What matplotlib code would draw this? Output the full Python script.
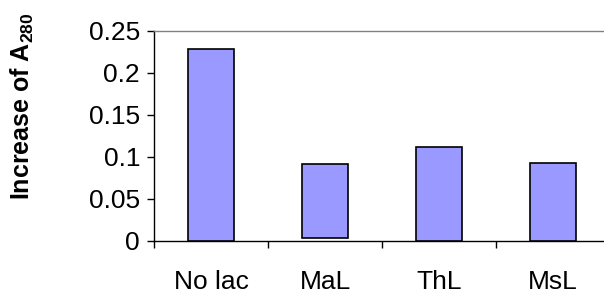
import matplotlib
matplotlib.use('Agg')
import matplotlib.pyplot as plt
import numpy as np

plt.rcParams['font.family'] = ['Liberation Sans', 'DejaVu Sans']
plt.rcParams['mathtext.fontset'] = 'custom'
plt.rcParams['mathtext.rm'] = 'Liberation Sans'
plt.rcParams['mathtext.bf'] = 'Liberation Sans:bold'

categories = ['No lac', 'MaL', 'ThL', 'MsL']
values = [0.2285, 0.0915, 0.112, 0.093]
bottoms = [0.0, 0.003, 0.0, 0.0]
yticks = [0, 0.05, 0.1, 0.15, 0.2, 0.25]
ytick_labels = ['0', '0.05', '0.1', '0.15', '0.2', '0.25']

fig = plt.figure(figsize=(6.04, 2.96), dpi=100)
ax = fig.add_axes([154 / 604, 55 / 296, 456 / 604, 210 / 296])

x = np.arange(len(categories))
heights = np.array(values) - np.array(bottoms)
ax.bar(x, heights, bottom=bottoms, width=0.4, color='#9999FF',
       edgecolor='black', linewidth=1.2, zorder=3)

ax.set_xlim(-0.5, len(categories) - 0.5)
ax.set_ylim(0, 0.25)

# category labels at centres, tick marks on the boundaries
ax.set_xticks(x)
ax.set_xticklabels(categories, fontsize=19)
ax.set_xticks(np.arange(len(categories) + 1) - 0.5, minor=True)
ax.tick_params(axis='x', which='major', length=0, pad=21)
ax.tick_params(axis='x', which='minor', length=5, width=1, direction='out')

ax.set_yticks(yticks)
ax.set_yticklabels(ytick_labels, fontsize=19)
ax.tick_params(axis='y', length=5, width=1, direction='out', pad=5)

ax.spines['left'].set_color('black')
ax.spines['bottom'].set_color('black')
ax.spines['top'].set_color('#808080')
ax.spines['right'].set_color('#808080')
for s in ax.spines.values():
    s.set_linewidth(1)

fig.text(22 / 604, 1 - 106 / 296, r'Increase of $\mathbf{A_{280}}$',
         rotation=90, ha='center', va='center', fontsize=18, fontweight='bold')

fig.savefig('out.png', dpi=100)
